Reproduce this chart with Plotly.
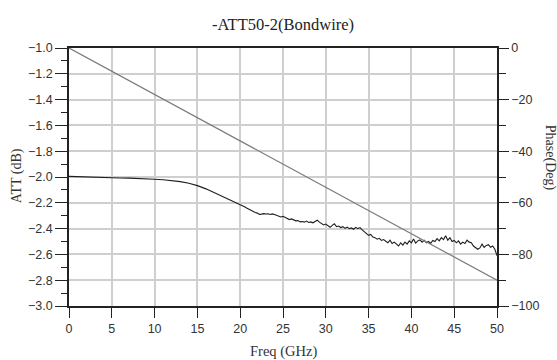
import plotly.graph_objects as go

freq = [0, 1, 2, 3, 4, 5, 6, 7, 8, 9, 10, 11, 12, 13, 14, 15, 16, 17, 18, 19, 20,
        20.25, 20.5, 20.75, 21, 21.25, 21.5, 21.75, 22, 22.25, 22.5, 22.75, 23,
        23.25, 23.5, 23.75, 24, 24.25, 24.5, 24.75, 25, 25.25, 25.5, 25.75, 26,
        26.25, 26.5, 26.75, 27, 27.25, 27.5, 27.75, 28, 28.25, 28.5, 28.75, 29,
        29.25, 29.5, 29.75, 30, 30.25, 30.5, 30.75, 31, 31.25, 31.5, 31.75, 32,
        32.25, 32.5, 32.75, 33, 33.25, 33.5, 33.75, 34, 34.25, 34.5, 34.75, 35,
        35.25, 35.5, 35.75, 36, 36.25, 36.5, 36.75, 37, 37.25, 37.5, 37.75, 38,
        38.25, 38.5, 38.75, 39, 39.25, 39.5, 39.75, 40, 40.25, 40.5, 40.75, 41,
        41.25, 41.5, 41.75, 42, 42.25, 42.5, 42.75, 43, 43.25, 43.5, 43.75, 44,
        44.25, 44.5, 44.75, 45, 45.25, 45.5, 45.75, 46, 46.25, 46.5, 46.75, 47,
        47.25, 47.5, 47.75, 48, 48.25, 48.5, 48.75, 49, 49.25, 49.5, 49.75, 50]

att_db = [-1.995, -1.998, -2.000, -2.002, -2.004, -2.006, -2.008, -2.009, -2.010, -2.013,
          -2.017, -2.021, -2.027, -2.036, -2.049, -2.067, -2.092, -2.122, -2.152, -2.181, -2.210,
          -2.22, -2.23, -2.24, -2.25, -2.26, -2.265, -2.275, -2.28,
          -2.29, -2.288, -2.284, -2.287, -2.285, -2.29, -2.286, -2.29,
          -2.295, -2.30, -2.31, -2.305, -2.315, -2.32, -2.33, -2.325,
          -2.335, -2.34, -2.338, -2.348, -2.345, -2.35, -2.342, -2.352,
          -2.348, -2.355, -2.345, -2.335, -2.35, -2.36, -2.372, -2.365,
          -2.38, -2.39, -2.375, -2.362, -2.385, -2.38, -2.392, -2.385,
          -2.398, -2.388, -2.40, -2.395, -2.405, -2.39, -2.40, -2.392,
          -2.41, -2.425, -2.44, -2.452, -2.445, -2.465, -2.47, -2.482,
          -2.475, -2.492, -2.485, -2.50, -2.51, -2.49, -2.515, -2.505,
          -2.52, -2.535, -2.51, -2.528, -2.505, -2.52, -2.495, -2.51,
          -2.48, -2.512, -2.495, -2.488, -2.505, -2.49, -2.51, -2.50,
          -2.515, -2.492, -2.50, -2.478, -2.495, -2.47, -2.485, -2.455,
          -2.49, -2.47, -2.50, -2.492, -2.51, -2.495, -2.52, -2.505,
          -2.515, -2.49, -2.505, -2.51, -2.535, -2.545, -2.56, -2.55,
          -2.52, -2.545, -2.53, -2.525, -2.545, -2.535, -2.56, -2.61]

phase_freq = [0, 50]
phase_deg = [0, -90]

att_ticks = [-1.0, -1.2, -1.4, -1.6, -1.8, -2.0, -2.2, -2.4, -2.6, -2.8, -3.0]
phase_ticks = [0, -20, -40, -60, -80, -100]
freq_ticks = [0, 5, 10, 15, 20, 25, 30, 35, 40, 45, 50]

serif = "Liberation Serif, Times New Roman, serif"
sans = "Liberation Sans, Arial, sans-serif"

fig = go.Figure()
fig.add_trace(go.Scatter(x=phase_freq, y=phase_deg, yaxis="y2", mode="lines",
                         line=dict(color="#7a7a7a", width=1.2), showlegend=False))
fig.add_trace(go.Scatter(x=freq, y=att_db, mode="lines",
                         line=dict(color="#1e1e1e", width=1.1), showlegend=False))

fig.update_layout(
    width=557, height=360,
    margin=dict(l=69, r=60, t=48, b=54),
    paper_bgcolor="white", plot_bgcolor="white",
    xaxis=dict(range=[0, 50], tickvals=freq_ticks, ticks="outside", ticklen=10,
               tickcolor="#222", showline=True, linecolor="#222", linewidth=1.5,
               mirror=True, showgrid=True, gridcolor="#cfcfcf", gridwidth=1.5,
               zeroline=False, tickfont=dict(family=sans, size=12.5, color="#333")),
    yaxis=dict(range=[-3.0, -1.0], tickvals=att_ticks, tickformat=".1f",
               ticks="outside", ticklen=12, tickcolor="#222",
               minor=dict(dtick=0.1, tick0=-1.0, ticks="outside", ticklen=6,
                          tickcolor="#222", showgrid=False),
               showline=True, linecolor="#222", linewidth=1.5,
               showgrid=True, gridcolor="#cfcfcf", gridwidth=1.5, zeroline=False,
               tickfont=dict(family=sans, size=12.5, color="#333")),
    yaxis2=dict(range=[-100, 0], tickvals=phase_ticks, overlaying="y", side="right",
                ticks="outside", ticklen=10, tickcolor="#222",
                minor=dict(dtick=10, tick0=0, ticks="outside", ticklen=7,
                           tickcolor="#222", showgrid=False),
                showline=True, linecolor="#222", linewidth=1.5,
                showgrid=False, zeroline=False,
                tickfont=dict(family=sans, size=12.5, color="#333")),
    annotations=[
        dict(text="-ATT50-2(Bondwire)", xref="paper", yref="paper", x=0.5, y=1.093,
             xanchor="center", yanchor="middle", showarrow=False,
             font=dict(family=serif, size=16.5, color="#222")),
        dict(text="Freq (GHz)", xref="paper", yref="paper", x=0.5, y=-0.175,
             xanchor="center", yanchor="middle", showarrow=False,
             font=dict(family=serif, size=14.5, color="#333")),
        dict(text="ATT (dB)", xref="paper", yref="paper", x=-0.121, y=0.504,
             xanchor="center", yanchor="middle",
             textangle=-90, showarrow=False, font=dict(family=serif, size=14, color="#333")),
        dict(text="Phase(Deg)", xref="paper", yref="paper", x=1.124, y=0.574,
             xanchor="center", yanchor="middle",
             textangle=90, showarrow=False, font=dict(family=serif, size=14, color="#333")),
    ],
)

fig.write_html("out.html")
